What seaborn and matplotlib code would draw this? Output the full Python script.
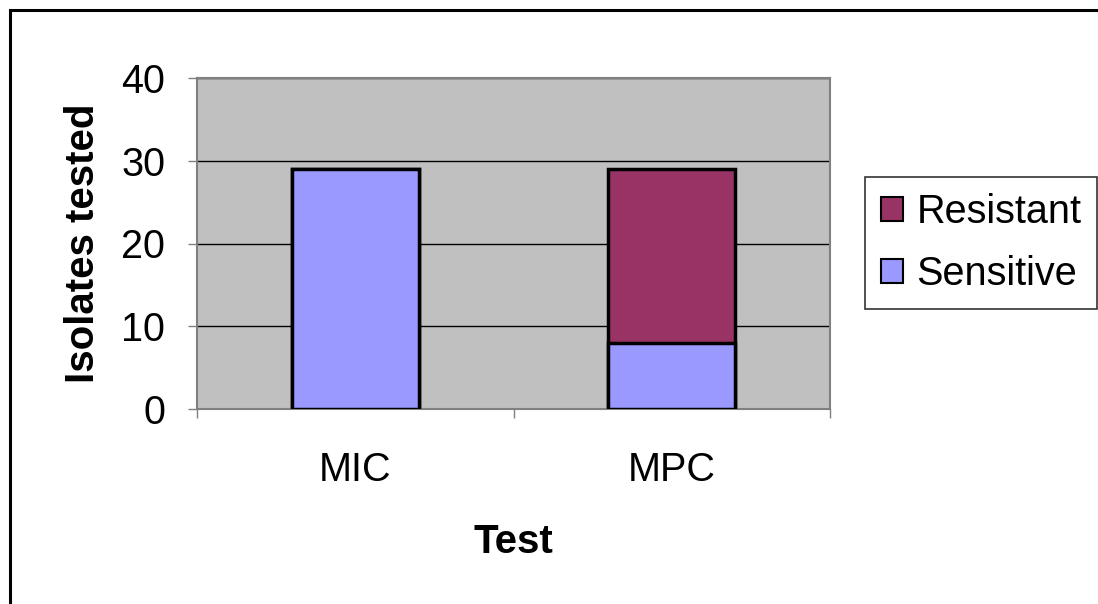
import matplotlib
matplotlib.use("Agg")
import matplotlib.pyplot as plt
import matplotlib.patches as mpatches
import seaborn as sns
import pandas as pd

tests = ["MIC", "MPC"]
sensitive = [29, 8]
resistant = [0, 21]
y_ticks = [0, 10, 20, 30, 40]

sens_color = "#9999FF"
res_color = "#993366"

sns.set_theme(style="white")
plt.rcParams["font.family"] = ["Liberation Sans", "DejaVu Sans"]
plt.rcParams.update({
    "text.color": "black",
    "axes.labelcolor": "black",
    "xtick.labelcolor": "black",
    "ytick.labelcolor": "black",
})

df = pd.DataFrame({
    "Test": tests,
    "Sensitive": sensitive,
    "Total": [s + r for s, r in zip(sensitive, resistant)],
})

fig = plt.figure(figsize=(10.98, 6.04), dpi=100)
ax = fig.add_axes([197 / 1098, 1 - 409 / 604, 633 / 1098, 331 / 604])

# outer chart border
fig.patches.append(mpatches.Rectangle((10 / 1098, -0.05), 1.2, 1 - 10 / 604 + 0.05,
                                      transform=fig.transFigure, fill=False,
                                      edgecolor="black", linewidth=2.2, zorder=0))

ax.set_facecolor("#C0C0C0")
ax.set_axisbelow(True)
ax.yaxis.grid(True, color="black", linewidth=1.0)

# stacked bars: full height in the resistant colour, sensitive part drawn over it
sns.barplot(data=df, x="Test", y="Total", color=res_color, width=0.4,
            edgecolor="black", linewidth=2.5, saturation=1, ax=ax, zorder=2)
sns.barplot(data=df, x="Test", y="Sensitive", color=sens_color, width=0.4,
            edgecolor="black", linewidth=2.5, saturation=1, ax=ax, zorder=3)

ax.set_xlim(-0.5, 1.5)
ax.set_ylim(0, 40)
ax.set_yticks(y_ticks)
ax.set_yticklabels([str(t) for t in y_ticks], fontsize=28.5)
ax.set_xticks([0, 1])
ax.set_xticklabels(tests, fontsize=28.5)
ax.set_xticks([-0.5, 0.5, 1.5], minor=True)
ax.tick_params(axis="x", which="major", length=0, pad=30)
ax.tick_params(axis="x", which="minor", bottom=True, length=6.5, width=1,
               color="#808080", direction="out")
ax.tick_params(axis="y", which="major", left=True, length=6.5, width=1,
               color="#808080", direction="out", pad=16.5)

for side in ["left", "bottom", "right", "top"]:
    ax.spines[side].set_visible(True)
    ax.spines[side].set_color("#808080")
    ax.spines[side].set_linewidth(1.5)

ax.set_ylabel("Isolates tested", fontsize=29, fontweight="bold", labelpad=14)
ax.set_xlabel("Test", fontsize=29, fontweight="bold", labelpad=25)

handles = [
    mpatches.Patch(facecolor=res_color, edgecolor="black", linewidth=1.5, label="Resistant"),
    mpatches.Patch(facecolor=sens_color, edgecolor="black", linewidth=1.5, label="Sensitive"),
]
leg = fig.legend(handles=handles, loc="upper left",
                 bbox_to_anchor=(865 / 1098, 1 - 177 / 604),
                 fontsize=28.5, frameon=True, fancybox=False,
                 handlelength=0.55, handleheight=0.55, handletextpad=0.35,
                 labelspacing=0.62, borderpad=0.4, borderaxespad=0)
leg.get_frame().set_edgecolor("black")
leg.get_frame().set_linewidth(1.2)

fig.savefig("out.png", dpi=100)
